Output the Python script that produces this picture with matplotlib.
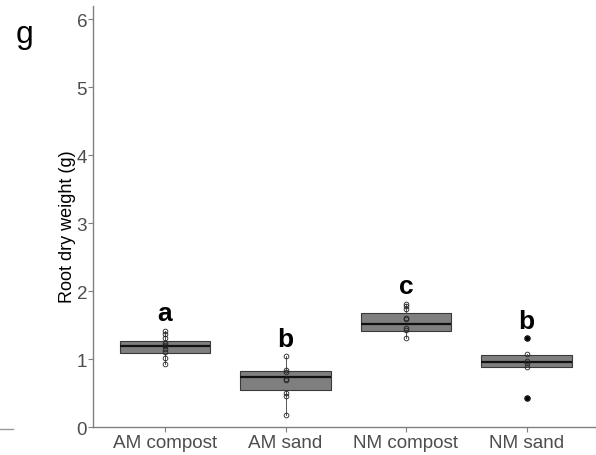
import matplotlib
matplotlib.use("Agg")
import matplotlib.pyplot as plt
from matplotlib.lines import Line2D

plt.rcParams["font.family"] = ["Liberation Sans", "DejaVu Sans"]

# ---------------------------------------------------------------------------
# Data: root dry weight (g) per treatment
# ---------------------------------------------------------------------------
groups = ["AM compost", "AM sand", "NM compost", "NM sand"]

# individual plants
am_compost = [1.41, 1.37, 1.32, 1.245, 1.21, 1.20, 1.157, 1.113, 1.025, 0.937]
am_sand = [1.049, 0.843, 0.814, 0.716, 0.696, 0.50, 0.46, 0.187]
nm_compost = [1.82, 1.78, 1.745, 1.61, 1.59, 1.466, 1.43, 1.32]
nm_sand = [1.32, 1.074, 0.975, 0.94, 0.887, 0.426]
points = [am_compost, am_sand, nm_compost, nm_sand]

# box summaries (lower quartile, median, upper quartile, whisker ends)
q1 = [1.10, 0.549, 1.417, 0.887]
med = [1.196, 0.746, 1.515, 0.961]
q3 = [1.275, 0.834, 1.676, 1.059]
whis_lo = [0.937, 0.187, 1.32, 0.887]
whis_hi = [1.41, 1.049, 1.82, 1.074]
outliers = [[], [], [], [1.32, 0.426]]

# significance letters and their heights
letters = ["a", "b", "c", "b"]
letter_y = [1.58, 1.196, 1.98, 1.466]

# ---------------------------------------------------------------------------
# Figure
# ---------------------------------------------------------------------------
W, H = 596, 456
fig = plt.figure(figsize=(W / 100, H / 100), dpi=100)
left, bottom = 92.7 / W, 1 - 428.3 / H
top = 1 - 6.7 / H
ax = fig.add_axes([left, bottom, 1 - left, top - bottom])

stats = []
for i, name in enumerate(groups):
    stats.append(dict(label=name, q1=q1[i], med=med[i], q3=q3[i],
                      whislo=whis_lo[i], whishi=whis_hi[i], fliers=outliers[i]))

positions = list(range(1, len(groups) + 1))
ax.bxp(stats, positions=positions, widths=0.75, patch_artist=True,
       showcaps=False, showfliers=True,
       boxprops=dict(facecolor="#7f7f7f", edgecolor="#3a3a3a", linewidth=0.8),
       medianprops=dict(color="#111111", linewidth=1.6),
       whiskerprops=dict(color="#555555", linewidth=0.7),
       flierprops=dict(marker="o", markerfacecolor="black", markeredgecolor="black",
                       markersize=3.6, linestyle="none"))

for pos, vals in zip(positions, points):
    ax.plot([pos] * len(vals), vals, linestyle="none", marker="o",
            markerfacecolor="none", markeredgecolor="#222222",
            markersize=3.4, markeredgewidth=0.6, zorder=4)

for pos, txt, y in zip(positions, letters, letter_y):
    ax.text(pos, y, txt, ha="center", va="baseline", fontsize=19,
            fontweight="bold", color="black")

# Axes formatting ------------------------------------------------------------
ax.set_xlim(0.4, 0.4 + (W - 92.7) / 120.5)
ax.set_ylim(0, 6.2)
ax.set_yticks(range(0, 7))
ax.set_xticks(positions)
ax.set_xticklabels(groups)

for side in ("top", "right"):
    ax.spines[side].set_visible(False)
for side in ("left", "bottom"):
    ax.spines[side].set_color("#808080")
    ax.spines[side].set_linewidth(1.0)

ax.tick_params(axis="both", colors="#808080", length=3.5, width=0.8,
               labelsize=13.6, labelcolor="#4d4d4d")
ax.tick_params(axis="y", pad=0.5)
ax.tick_params(axis="x", pad=1.5)

fig.text(67 / W, 1 - 227 / H, "Root dry weight (g)", rotation=90,
         ha="center", va="center", fontsize=13, color="black")

# panel letter
fig.text(16 / W, 1 - 43 / H, "g", ha="left", va="baseline", fontsize=23,
         color="black")

# short rule at the lower left
fig.add_artist(Line2D([0, 13 / W], [1 - 430 / H] * 2, color="#9a9a9a",
                      linewidth=1.0))

fig.savefig("out.png", dpi=100)
